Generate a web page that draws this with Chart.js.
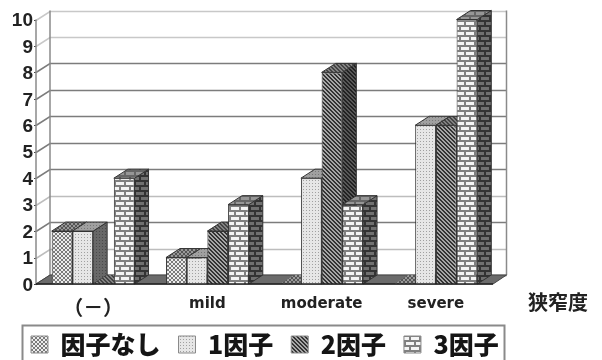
<!DOCTYPE html>
<html lang="ja">
<head>
<meta charset="utf-8">
<title>狭窄度</title>
<style>
  html, body { margin: 0; padding: 0; background: #fff; }
  canvas { display: block; }
</style>
</head>
<body>
<canvas id="chart" width="602" height="360"></canvas>
<script src="https://cdn.jsdelivr.net/npm/chart.js@4"></script>
<script>
const categories = ['（－）', 'mild', 'moderate', 'severe'];
const seriesNames = ['因子なし', '1因子', '2因子', '3因子'];
const noFactor = [2, 1, 0, 0];
const oneFactor = [2, 1, 4, 6];
const twoFactors = [0, 2, 8, 6];
const threeFactors = [4, 3, 3, 10];
const yTicks = [0, 1, 2, 3, 4, 5, 6, 7, 8, 9, 10];
const axisTitle = '狭窄度';

// Extrusion of the bars and the floor towards the back wall, in pixels.
const DEPTH_X = 14;
const DEPTH_Y = 9;

// Hatch tiles: '#' takes the ink colour, '.' the paper colour.
const MESH = ['.##.', '#..#', '#..#', '.##.'];
const DOTS = ['#..', '...', '...'];
const WEAVE = ['##..', '.##.', '..##', '#..#'];
const BRICK = ['##########', '##########', '....##....', '....##....', '....##....',
               '##########', '##########', '#........#', '#........#', '#........#'];

function hatch(rows, ink, paper) {
  const tile = document.createElement('canvas');
  tile.width = rows[0].length;
  tile.height = rows.length;
  const g = tile.getContext('2d');
  g.fillStyle = paper;
  g.fillRect(0, 0, tile.width, tile.height);
  g.fillStyle = ink;
  rows.forEach((row, y) => [...row].forEach((c, x) => {
    if (c === '#') g.fillRect(x, y, 1, 1);
  }));
  return g.createPattern(tile, 'repeat');
}

const faces = [
  { front: hatch(MESH, '#7a7a7a', '#ececec'), side: hatch(MESH, '#333', '#666'), top: hatch(MESH, '#555', '#999') },
  { front: hatch(DOTS, '#a0a0a0', '#e6e6e6'), side: hatch(DOTS, '#4a4a4a', '#686868'), top: hatch(DOTS, '#777', '#a0a0a0') },
  { front: hatch(WEAVE, '#333', '#a6a6a6'), side: hatch(WEAVE, '#222', '#585858'), top: hatch(WEAVE, '#444', '#828282') },
  { front: hatch(BRICK, '#808080', '#f5f5f5'), side: hatch(BRICK, '#333', '#707070'), top: hatch(BRICK, '#666', '#969696') }
];

const gridShades = ['#555', '#bdbdbd', '#7c7c7c', '#bdbdbd', '#7c7c7c', '#7c7c7c', '#7c7c7c', '#7c7c7c', '#7c7c7c', '#c8c8c8', '#c8c8c8'];

function polygon(ctx, points, fill, stroke) {
  ctx.beginPath();
  points.forEach(([x, y], i) => (i ? ctx.lineTo(x, y) : ctx.moveTo(x, y)));
  ctx.closePath();
  if (fill) { ctx.fillStyle = fill; ctx.fill(); }
  if (stroke) { ctx.strokeStyle = stroke; ctx.lineWidth = 1; ctx.stroke(); }
}

function drawRoom(chart) {
  const { ctx, chartArea: a, scales: { y } } = chart;
  const backLeft = a.left + DEPTH_X;
  const backRight = a.right + DEPTH_X - 0.5;
  ctx.save();
  yTicks.forEach((v, i) => {
    const py = Math.round(y.getPixelForValue(v)) + 0.5;
    ctx.strokeStyle = gridShades[i];
    ctx.lineWidth = 1.5;
    ctx.beginPath();
    ctx.moveTo(a.left, py);
    ctx.lineTo(backLeft, py - DEPTH_Y);
    ctx.lineTo(backRight, py - DEPTH_Y);
    ctx.stroke();
    ctx.strokeStyle = '#444';
    ctx.lineWidth = 1;
    ctx.beginPath();
    ctx.moveTo(a.left - 2, py);
    ctx.lineTo(a.left, py);
    ctx.stroke();
  });
  const top = y.getPixelForValue(10);
  const zero = y.getPixelForValue(0);
  ctx.strokeStyle = '#8a8a8a';
  ctx.lineWidth = 1.5;
  [[a.left, top, a.left, zero],
   [backLeft, top - DEPTH_Y, backLeft, zero - DEPTH_Y],
   [backRight, top - DEPTH_Y, backRight, zero - DEPTH_Y]].forEach(([x1, y1, x2, y2]) => {
    ctx.beginPath();
    ctx.moveTo(x1, y1);
    ctx.lineTo(x2, y2);
    ctx.stroke();
  });
  polygon(ctx, [[a.left, zero], [backLeft, zero - DEPTH_Y], [backRight, zero - DEPTH_Y], [a.right, zero]], '#6b6b6b', '#444');
  ctx.restore();
}

function drawExtrusion(ctx, meta, face) {
  ctx.save();
  meta.data.forEach(bar => {
    const { x, y, base, width } = bar.getProps(['x', 'y', 'base', 'width'], true);
    const l = x - width / 2;
    const r = x + width / 2;
    const raised = y < base;
    polygon(ctx, [[r, y], [r + DEPTH_X, y - DEPTH_Y], [r + DEPTH_X, base - DEPTH_Y], [r, base]], face.side, raised ? '#333' : null);
    polygon(ctx, [[l, y], [l + DEPTH_X, y - DEPTH_Y], [r + DEPTH_X, y - DEPTH_Y], [r, y]], face.top, raised ? '#333' : null);
  });
  ctx.restore();
}

// Series are painted left to right, each front followed by its side and top,
// so that the next series overlaps the faces of the previous one.
const roomPlugin = {
  id: 'room',
  beforeDatasetsDraw(chart) {
    const { ctx, chartArea: a, scales: { y } } = chart;
    drawRoom(chart);
    chart.data.datasets.forEach((ds, i) => {
      const meta = chart.getDatasetMeta(i);
      meta.controller.draw();
      drawExtrusion(ctx, meta, faces[i]);
    });
    const zero = y.getPixelForValue(0);
    ctx.save();
    ctx.strokeStyle = '#222';
    ctx.lineWidth = 1.5;
    ctx.beginPath();
    ctx.moveTo(a.left, zero);
    ctx.lineTo(a.right, zero);
    ctx.stroke();
    ctx.restore();
    return false;
  },
  afterDraw(chart) {
    const { ctx } = chart;
    ctx.save();
    ctx.fillStyle = '#222';
    ctx.font = 'bold 20px "Noto Sans CJK JP"';
    ctx.textAlign = 'left';
    ctx.textBaseline = 'middle';
    ctx.fillText(axisTitle, 528, 302);
    ctx.strokeStyle = '#8a8a8a';
    ctx.lineWidth = 2;
    ctx.strokeRect(22.5, 325.5, 482, 40);
    ctx.restore();
  }
};

// The legend sits in its own framed strip, wider than the plot above it.
const legendPlacement = {
  id: 'legendPlacement',
  beforeLayout(chart) {
    const legend = chart.legend;
    legend.fit = function () {
      Object.getPrototypeOf(this).fit.call(this);
      this.height = 33;
    };
  },
  afterLayout(chart) {
    const legend = chart.legend;
    legend.left = 13;
    legend.right = 602;
    legend.top = 314;
  }
};

new Chart(document.getElementById('chart'), {
  type: 'bar',
  data: {
    labels: categories,
    datasets: [noFactor, oneFactor, twoFactors, threeFactors].map((values, i) => ({
      label: seriesNames[i],
      data: values,
      clip: false,
      backgroundColor: faces[i].front,
      borderColor: '#333',
      borderWidth: 1,
      categoryPercentage: 0.725,
      barPercentage: 1
    }))
  },
  plugins: [legendPlacement, roomPlugin],
  options: {
    responsive: false,
    animation: false,
    events: [],
    layout: { padding: { top: 19.5, right: 109, bottom: 2, left: 0 } },
    scales: {
      x: {
        grid: { display: false, drawTicks: false },
        border: { display: false },
        ticks: {
          color: '#222',
          padding: 11,
          maxRotation: 0,
          // The fullwidth bracket label is set larger and in the CJK face.
          font: ctx => (ctx.index === 0
            ? { family: '"Noto Sans CJK JP"', weight: 'bold', size: 20 }
            : { family: '"DejaVu Sans"', weight: 'bold', size: 15 })
        },
        afterFit(scale) { scale.height = 41; }
      },
      y: {
        min: 0,
        max: 10,
        grid: { display: false, drawTicks: false },
        border: { display: false },
        afterBuildTicks(scale) { scale.ticks = yTicks.map(value => ({ value })); },
        ticks: {
          color: '#222',
          padding: 3,
          labelOffset: 1.5,
          autoSkip: false,
          font: { family: '"Liberation Sans"', weight: 'bold', size: 19 }
        },
        afterFit(scale) { scale.width = 36; }
      }
    },
    plugins: {
      tooltip: { enabled: false },
      legend: {
        position: 'bottom',
        align: 'start',
        labels: {
          boxWidth: 17,
          boxHeight: 17,
          padding: 18,
          color: '#151515',
          font: { family: '"Noto Sans CJK JP"', weight: '900', size: 25 },
          generateLabels(chart) {
            return Chart.defaults.plugins.legend.labels.generateLabels(chart)
              .map(item => ({ ...item, strokeStyle: '#8a8a8a' }));
          }
        }
      }
    }
  }
});
</script>
</body>
</html>
